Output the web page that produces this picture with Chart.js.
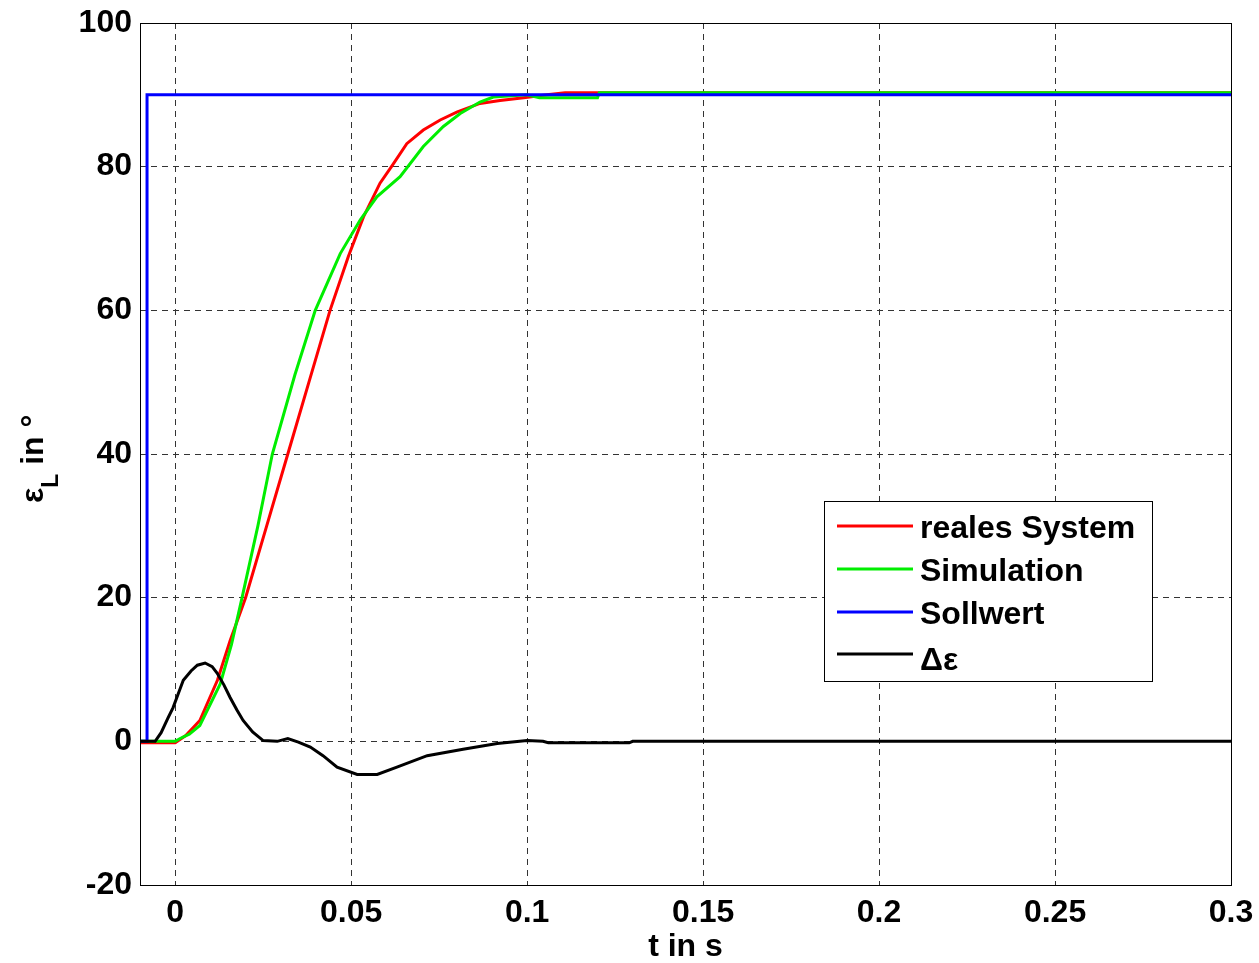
<!DOCTYPE html>
<html>
<head>
<meta charset="utf-8">
<script src="https://cdn.jsdelivr.net/npm/chart.js@4/dist/chart.umd.min.js"></script>
<style>
  html, body { margin: 0; padding: 0; background: #fff; }
</style>
</head>
<body>
<canvas id="stepChart" width="1259" height="963"></canvas>
<script>
// time axis values (s) and angle values (deg)
var tReal = [-0.01, 0.0, 0.003, 0.007, 0.012, 0.0156, 0.02, 0.026, 0.032, 0.038, 0.044, 0.0492, 0.0535, 0.0582, 0.0616, 0.0658, 0.0705, 0.0753, 0.08, 0.0866, 0.0923, 0.099, 0.1056, 0.1108, 0.15, 0.2, 0.25, 0.3];
var yReal = [-0.2, -0.2, 0.8, 2.9, 8.5, 14, 20, 30, 40, 50, 60, 67.5, 73.0, 77.7, 80.1, 83.2, 85.1, 86.5, 87.6, 88.8, 89.2, 89.6, 90.0, 90.3, 90.3, 90.3, 90.3, 90.3];

var tSim = [-0.01, 0.0, 0.0014, 0.004, 0.007, 0.0128, 0.016, 0.019, 0.0235, 0.0276, 0.034, 0.0398, 0.0469, 0.0526, 0.0573, 0.0639, 0.0705, 0.0762, 0.081, 0.0866, 0.0904, 0.0999, 0.1035, 0.12, 0.1205, 0.3];
var ySim = [0, 0, 0.4, 1.0, 2.2, 8, 13.5, 20, 30, 40, 51, 60, 67.9, 72.6, 75.8, 78.6, 82.8, 85.6, 87.4, 89.0, 89.7, 90.0, 89.6, 89.6, 90.3, 90.3];

var tSoll = [-0.01, -0.008, -0.008, 0.3];
var ySoll = [0, 0, 90, 90];

var tDelta = [-0.01, -0.0057, -0.004, -0.002, -0.0006, 0.001, 0.0023, 0.0045, 0.0063, 0.0085, 0.0105, 0.0119, 0.0138, 0.0156, 0.0175, 0.0193, 0.022, 0.025, 0.029, 0.032, 0.035, 0.0384, 0.042, 0.046, 0.0517, 0.0574, 0.063, 0.0716, 0.0818, 0.0915, 0.1, 0.1045, 0.106, 0.129, 0.13, 0.3];
var yDelta = [0, 0, 1.2, 3.3, 4.7, 6.8, 8.5, 9.8, 10.6, 10.9, 10.4, 9.5, 7.9, 6.1, 4.4, 2.9, 1.3, 0.1, 0, 0.4, -0.1, -0.8, -2.0, -3.6, -4.6, -4.6, -3.6, -2, -1.1, -0.3, 0.1, 0, -0.2, -0.2, 0, 0];

var seriesNames = ['reales System', 'Simulation', 'Sollwert', '\u0394\u03b5'];
var seriesColors = ['#ff0000', '#00ee00', '#0000ff', '#000000'];

var xTicks = [0, 0.05, 0.1, 0.15, 0.2, 0.25, 0.3];
var xTickLabels = ['0', '0.05', '0.1', '0.15', '0.2', '0.25', '0.3'];
var yTickLabels = ['-20', '0', '20', '40', '60', '80', '100'];

var FONT = '"Liberation Sans", Arial, sans-serif';

function zip(ts, ys) {
    return ts.map(function(t, i) { return { x: t, y: ys[i] }; });
}

// box around plot area, legend inside, y title with subscript
var extras = {
    id: 'extras',
    afterDraw: function(chart) {
        var ctx = chart.ctx;
        var a = chart.chartArea;
        ctx.save();
        ctx.strokeStyle = '#000';
        ctx.lineWidth = 1;
        ctx.setLineDash([]);
        ctx.strokeRect(Math.round(a.left) + 0.5, Math.round(a.top) + 0.5,
                       Math.round(a.right - a.left), Math.round(a.bottom - a.top));

        // legend
        ctx.fillStyle = '#fff';
        ctx.fillRect(824, 501, 328, 180);
        ctx.strokeRect(824.5, 501.5, 328, 180);
        var rowY = [526, 569, 612, 654];
        ctx.font = 'bold 32px ' + FONT;
        ctx.textBaseline = 'alphabetic';
        ctx.textAlign = 'left';
        seriesNames.forEach(function(name, i) {
            ctx.strokeStyle = seriesColors[i];
            ctx.lineWidth = 3;
            ctx.beginPath();
            ctx.moveTo(837, rowY[i]);
            ctx.lineTo(913, rowY[i]);
            ctx.stroke();
            ctx.fillStyle = '#000';
            ctx.fillText(name, 920, rowY[i] + (i === 3 ? 16 : 12));
        });

        // y axis title: eps_L in °
        ctx.translate(43, 503);
        ctx.rotate(-Math.PI / 2);
        ctx.fillStyle = '#000';
        ctx.font = 'bold 32px ' + FONT;
        ctx.fillText('\u03b5', 0, 0);
        var w = ctx.measureText('\u03b5').width;
        ctx.font = 'bold 23px ' + FONT;
        ctx.fillText('L', w, 15);
        w += ctx.measureText('L').width;
        ctx.font = 'bold 32px ' + FONT;
        ctx.fillText(' in \u00b0', w, 0);
        ctx.restore();
    }
};

var ctx = document.getElementById('stepChart').getContext('2d');

new Chart(ctx, {
    type: 'line',
    data: {
        datasets: [
            { label: seriesNames[0], data: zip(tReal, yReal), borderColor: seriesColors[0], order: 3 },
            { label: seriesNames[1], data: zip(tSim, ySim), borderColor: seriesColors[1], order: 2 },
            { label: seriesNames[2], data: zip(tSoll, ySoll), borderColor: seriesColors[2], order: 1 },
            { label: seriesNames[3], data: zip(tDelta, yDelta), borderColor: seriesColors[3], order: 0 }
        ]
    },
    options: {
        responsive: false,
        animation: false,
        devicePixelRatio: 1,
        elements: {
            point: { radius: 0 },
            line: { borderWidth: 3, tension: 0, fill: false }
        },
        layout: { padding: { left: 0, right: 28, top: 23, bottom: 0 } },
        plugins: {
            legend: { display: false },
            tooltip: { enabled: false }
        },
        scales: {
            x: {
                type: 'linear',
                min: -0.01,
                max: 0.3,
                afterBuildTicks: function(axis) {
                    axis.ticks = xTicks.map(function(v) { return { value: v }; });
                },
                afterFit: function(axis) {
                    axis.height = 78;
                    axis.paddingLeft = 0;
                    axis.paddingRight = 0;
                },
                grid: { color: '#333', lineWidth: 1, drawTicks: false },
                border: { display: false, dash: [6, 5] },
                ticks: {
                    color: '#000',
                    padding: 9,
                    maxRotation: 0,
                    font: { family: FONT, size: 32, weight: 'bold' },
                    callback: function(val, i) { return xTickLabels[i]; }
                },
                title: {
                    display: true,
                    text: 't in s',
                    color: '#000',
                    padding: { top: 0, bottom: -3 },
                    font: { family: FONT, size: 32, weight: 'bold', lineHeight: 1.2 }
                }
            },
            y: {
                type: 'linear',
                min: -20,
                max: 100,
                afterFit: function(axis) {
                    axis.width = 140;
                    axis.paddingTop = 0;
                    axis.paddingBottom = 0;
                },
                grid: { color: '#333', lineWidth: 1, drawTicks: false },
                border: { display: false, dash: [6, 5] },
                ticks: {
                    stepSize: 20,
                    color: '#000',
                    padding: 8,
                    font: { family: FONT, size: 32, weight: 'bold' },
                    callback: function(val, i) { return yTickLabels[i]; }
                }
            }
        }
    },
    plugins: [extras]
});
</script>
</body>
</html>
